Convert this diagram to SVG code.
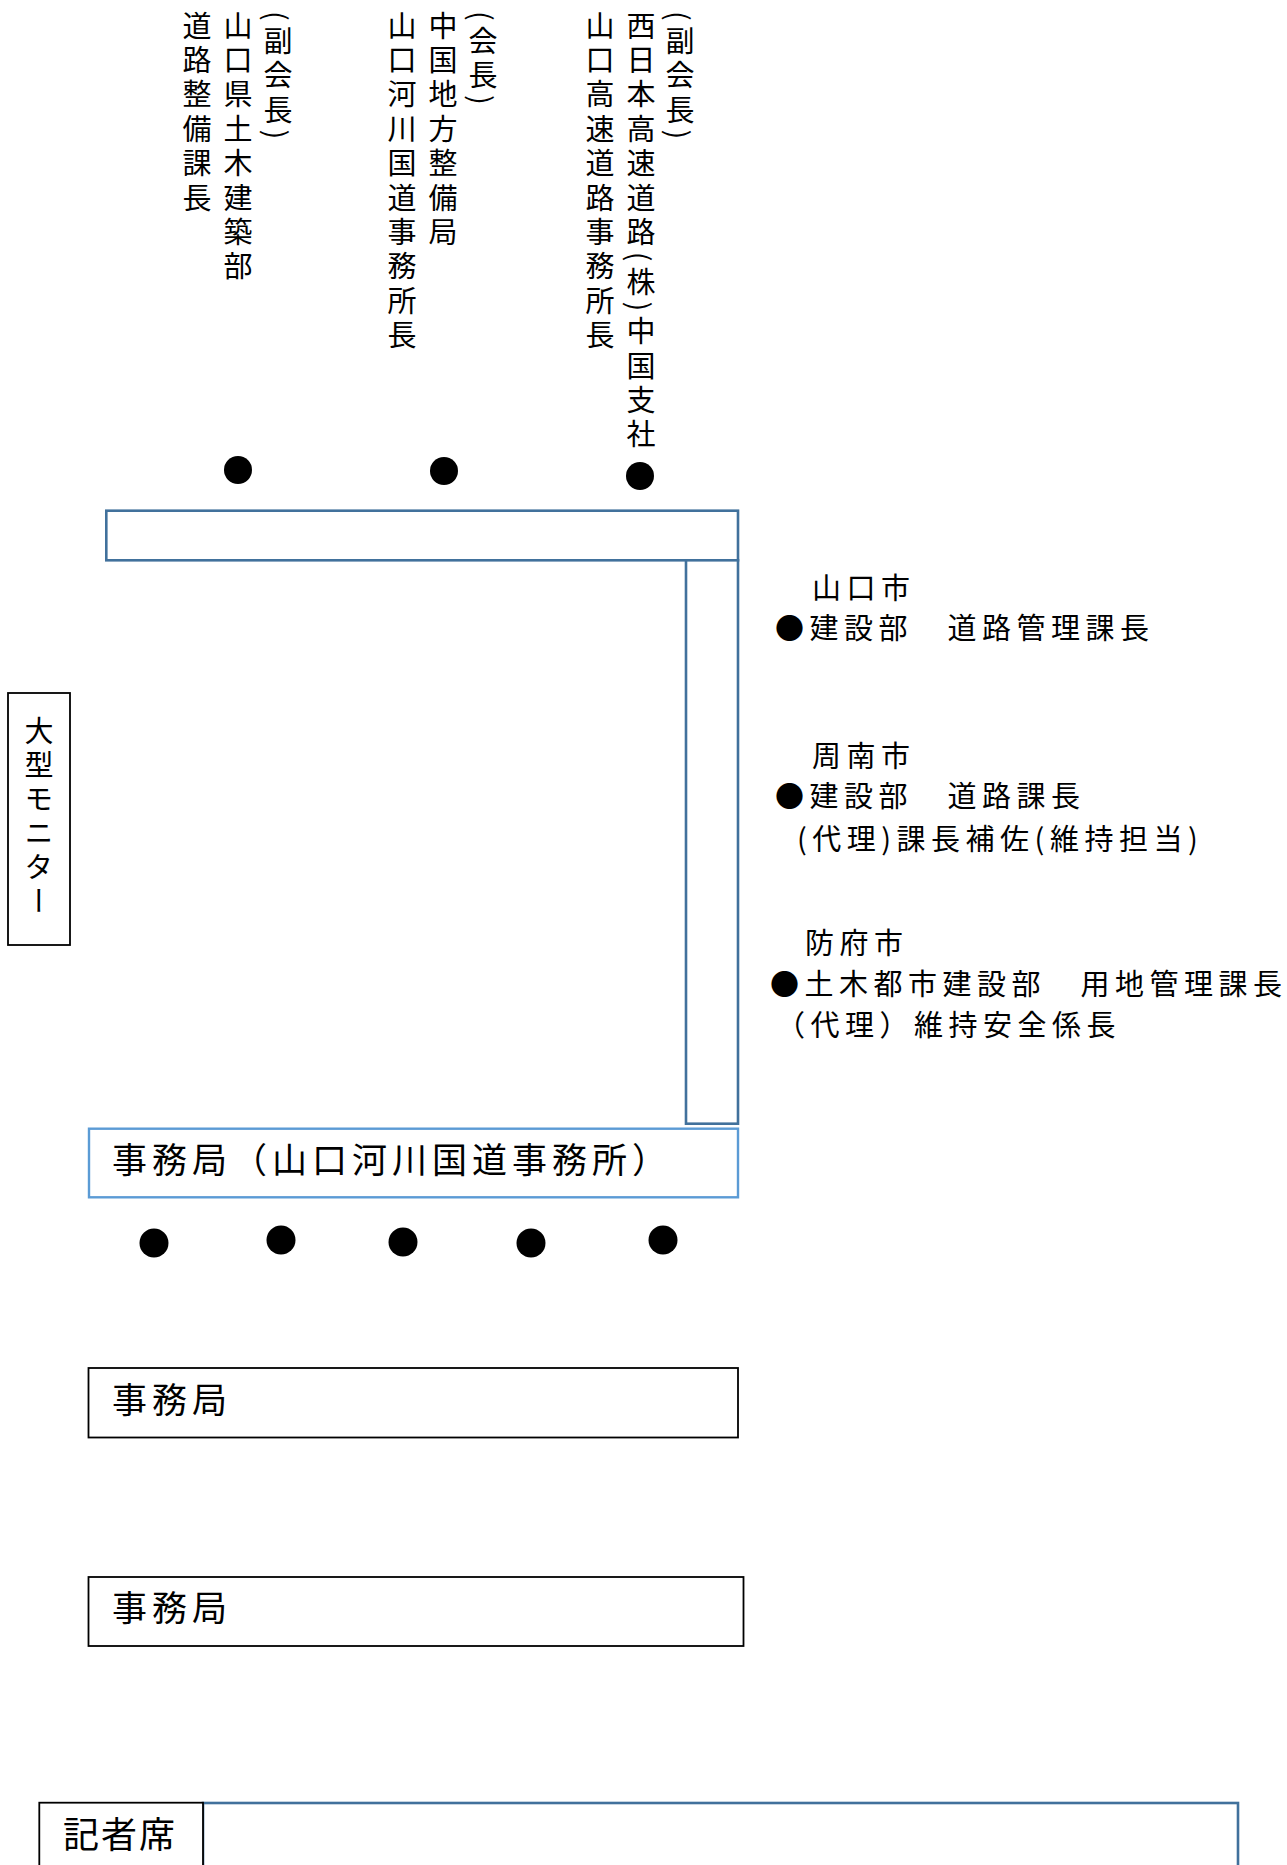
<svg xmlns="http://www.w3.org/2000/svg" width="1287" height="1865" viewBox="0 0 1287 1865">
<style>
  .t { font-family: "Noto Sans CJK JP", "Noto Sans CJK SC", sans-serif; fill: #000; }
  .v { font-size: 29px; letter-spacing: 5.4px; writing-mode: vertical-rl; }
  .h { font-size: 29px; letter-spacing: 5.5px; }
  .big { font-size: 35px; letter-spacing: 5px; }
  .tbl { fill: #fff; stroke: #41719C; stroke-width: 2.6; }
  .sec { fill: #fff; stroke: #5B9BD5; stroke-width: 2.4; }
  .blk { fill: #fff; stroke: #000; stroke-width: 1.8; }
  .seat { fill: #000; }
</style>
<rect width="1287" height="1865" fill="#fff"/>

<g id="guests-top">
  <text class="t v" x="278" y="11">(副会長)</text>
  <text class="t v" x="238" y="11">山口県土木建築部</text>
  <text class="t v" x="197" y="11">道路整備課長</text>
  <text class="t v" x="483" y="11">(会長)</text>
  <text class="t v" x="443" y="11">中国地方整備局</text>
  <text class="t v" x="402" y="11">山口河川国道事務所長</text>
  <text class="t v" x="680" y="11">(副会長)</text>
  <text class="t v" x="641" y="11">西日本高速道路(株)中国支社</text>
  <text class="t v" x="600" y="11">山口高速道路事務所長</text>
  <circle class="seat" cx="238" cy="470" r="14"/>
  <circle class="seat" cx="444" cy="471" r="14"/>
  <circle class="seat" cx="640" cy="476" r="14"/>
</g>

<g id="table-top">
  <rect class="tbl" x="106.3" y="510.7" width="631.7" height="49.6"/>
</g>
<g id="table-side">
  <rect class="tbl" x="686" y="560.3" width="52" height="563.4"/>
</g>

<g id="guests-side">
  <text class="t h" x="812" y="599">山口市</text>
  <text class="t h" x="775" y="639">●建設部　道路管理課長</text>
  <text class="t h" x="812" y="767">周南市</text>
  <text class="t h" x="775" y="807">●建設部　道路課長</text>
  <text class="t h" x="797" y="850">(代理)課長補佐(維持担当)</text>
  <text class="t h" x="805" y="954">防府市</text>
  <text class="t h" x="770" y="995">●土木都市建設部　用地管理課長</text>
  <text class="t h" x="776" y="1036">（代理）維持安全係長</text>
</g>

<g id="monitor">
  <rect class="blk" x="8" y="693" width="62" height="252" stroke-width="1.6"/>
  <text class="t v" x="39" y="716" style="letter-spacing:5px">大型モニター</text>
</g>

<g id="secretariat-main">
  <rect class="sec" x="89" y="1128.7" width="649" height="68.6"/>
  <text class="t big" x="112" y="1173">事務局（山口河川国道事務所）</text>
</g>

<g id="secretariat-seats">
  <circle class="seat" cx="154" cy="1243" r="14.5"/>
  <circle class="seat" cx="281" cy="1240" r="14.5"/>
  <circle class="seat" cx="403" cy="1242" r="14.5"/>
  <circle class="seat" cx="531" cy="1243" r="14.5"/>
  <circle class="seat" cx="663" cy="1240" r="14.5"/>
</g>

<g id="secretariat-1">
  <rect class="blk" x="88.5" y="1368" width="649.5" height="69.5"/>
  <text class="t big" x="112" y="1413">事務局</text>
</g>

<g id="secretariat-2">
  <rect class="blk" x="88.5" y="1577" width="655" height="69"/>
  <text class="t big" x="112" y="1621">事務局</text>
</g>

<g id="press-area">
  <rect class="tbl" x="203" y="1803" width="1035" height="120"/>
</g>
<g id="press">
  <rect class="blk" x="39.3" y="1802.7" width="163.7" height="120"/>
  <text class="t" x="63" y="1848" style="font-size:36px;letter-spacing:2px">記者席</text>
</g>

<g id="connectors"></g>
</svg>
